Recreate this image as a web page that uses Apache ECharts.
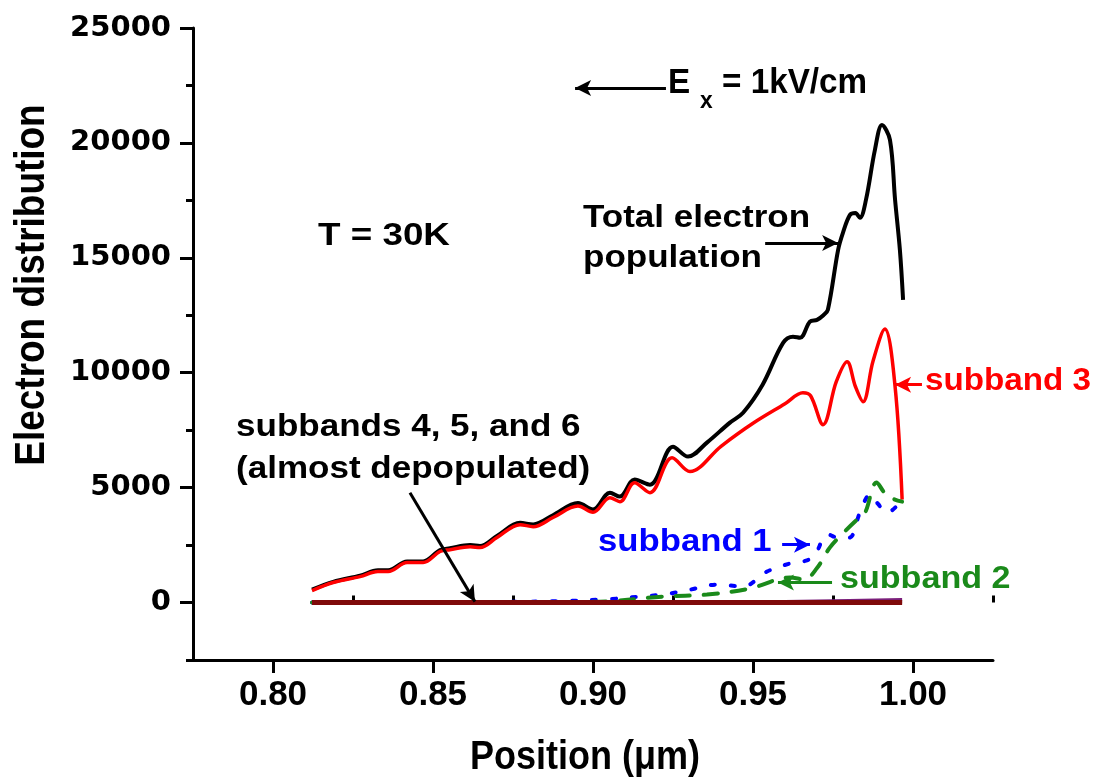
<!DOCTYPE html>
<html>
<head>
<meta charset="utf-8">
<title>Electron distribution, T = 30K</title>
<script src="https://cdn.jsdelivr.net/npm/echarts@6/dist/echarts.min.js"></script>
<style>
  html, body { margin: 0; padding: 0; background: #fff; }
  #chart { width: 1104px; height: 779px; }
</style>
</head>
<body>
<div id="chart"></div>
<script>
// Position along the device (µm) and electron distribution for each curve
const totalX = [0.8122, 0.8188, 0.8272, 0.8328, 0.8360, 0.8419, 0.8469, 0.8522, 0.8553, 0.8616, 0.8647, 0.8700, 0.8772, 0.8813, 0.8875, 0.8953, 0.9000, 0.9053, 0.9084, 0.9130, 0.9178, 0.9250, 0.9297, 0.9356, 0.9428, 0.9469, 0.9530, 0.9594, 0.9625, 0.9647, 0.9678, 0.9700, 0.9720, 0.9734, 0.9766, 0.9781, 0.9803, 0.9820, 0.9834, 0.9853, 0.9881, 0.9903, 0.9928, 0.9944, 0.9959, 0.9969];
const totalY = [560, 900, 1170, 1400, 1400, 1790, 1790, 2280, 2360, 2500, 2460, 2900, 3470, 3400, 3800, 4330, 4050, 4780, 4610, 5350, 5130, 6780, 6350, 6960, 7830, 8260, 9480, 11300, 11570, 11520, 12220, 12300, 12500, 12740, 15350, 16090, 16870, 16950, 16740, 17520, 19700, 20780, 20130, 17520, 15350, 13170];

const sub3X = [0.8122, 0.8188, 0.8272, 0.8328, 0.8360, 0.8419, 0.8469, 0.8522, 0.8553, 0.8616, 0.8647, 0.8700, 0.8772, 0.8813, 0.8875, 0.8953, 0.9000, 0.9053, 0.9084, 0.9130, 0.9178, 0.9247, 0.9303, 0.9400, 0.9500, 0.9600, 0.9656, 0.9680, 0.9719, 0.9760, 0.9794, 0.9820, 0.9844, 0.9875, 0.9912, 0.9944, 0.9966];
const sub3Y = [520, 870, 1130, 1350, 1350, 1740, 1740, 2220, 2300, 2430, 2390, 2830, 3390, 3300, 3700, 4200, 3930, 4560, 4390, 5210, 4780, 6300, 5700, 6800, 7800, 8650, 9130, 9000, 7740, 9600, 10480, 9400, 8740, 10500, 11900, 9400, 4480];

const sub1X = [0.8122, 0.8600, 0.8900, 0.9050, 0.9147, 0.9220, 0.9303, 0.9387, 0.9469, 0.9544, 0.9616, 0.9660, 0.9690, 0.9734, 0.9770, 0.9803, 0.9834, 0.9866, 0.9890, 0.9919, 0.9959];
const sub1Y = [0, 20, 60, 150, 260, 350, 560, 780, 700, 1350, 1700, 1800, 2000, 2960, 2800, 2830, 3910, 4700, 4300, 3910, 4350];

const sub2X = [0.8122, 0.9000, 0.9219, 0.9356, 0.9490, 0.9616, 0.9660, 0.9700, 0.9740, 0.9780, 0.9825, 0.9850, 0.9875, 0.9885, 0.9910, 0.9940, 0.9966];
const sub2Y = [0, 30, 260, 350, 610, 1090, 1000, 1500, 2390, 3000, 3610, 3900, 5040, 5220, 4800, 4500, 4390];

const sub4X = [0.8122, 0.8500, 0.9000, 0.9500, 0.9966];
const sub4Y = [0, 0, 0, 0, 0];

const sub5X = [0.8122, 0.9000, 0.9300, 0.9600, 0.9800, 0.9966];
const sub5Y = [0, 5, 20, 50, 90, 130];

const sub6X = [0.8122, 0.9000, 0.9500, 0.9966];
const sub6Y = [0, 0, 5, 20];

// Axis ticks and labels
const xMajor = [0.80, 0.85, 0.90, 0.95, 1.00];
const xMinor = [0.775, 0.825, 0.875, 0.925, 0.975, 1.025];
const yMajor = [0, 5000, 10000, 15000, 20000, 25000];
const yMinor = [-2500, 2500, 7500, 12500, 17500, 22500];

const pairs = (xs, ys) => xs.map((x, i) => [x, ys[i]]);

const TXT = 'Liberation Sans, Arial, sans-serif';

function arrowLine(items, color) {
  return {
    silent: true,
    symbol: ['none', 'arrow'],
    symbolSize: [12, 16],
    label: { show: false },
    lineStyle: { color: color, width: 3, type: 'solid' },
    emphasis: { disabled: true },
    data: items
  };
}

// Text block anchored at its top-left corner, optionally stretched horizontally
function note(x, y, text, size, color, sx, extra) {
  return {
    type: 'text', x: x, y: y, scaleX: sx || 1, silent: true,
    style: Object.assign({
      text: text, font: 'bold ' + size + 'px ' + TXT, fill: color,
      textAlign: 'left', textVerticalAlign: 'top'
    }, extra || {})
  };
}

const chart = echarts.init(document.getElementById('chart'), null, { renderer: 'canvas' });

const baseAxis = {
  type: 'value',
  splitLine: { show: false },
  axisLine: { show: true, onZero: false, lineStyle: { color: '#000', width: 3 } }
};

chart.setOption({
  animation: false,
  backgroundColor: '#fff',
  grid: { left: 193, right: 111, top: 28, bottom: 119, containLabel: false },
  xAxis: [
    Object.assign({}, baseAxis, {
      min: 0.775, max: 1.025,
      axisTick: { show: true, inside: false, length: 13, customValues: xMajor, lineStyle: { color: '#000', width: 3 } },
      axisLabel: { show: true, customValues: xMajor, margin: 18, formatter: v => v.toFixed(2), fontFamily: TXT, fontWeight: 'bold', fontSize: 35, color: '#000' }
    }),
    Object.assign({}, baseAxis, {
      min: 0.775, max: 1.025,
      axisLine: { show: false },
      axisTick: { show: true, inside: false, length: 7, customValues: xMinor, lineStyle: { color: '#000', width: 3 } },
      axisLabel: { show: false }
    })
  ],
  yAxis: [
    Object.assign({}, baseAxis, {
      min: -2500, max: 25000,
      axisTick: { show: true, inside: false, length: 13, customValues: yMajor, lineStyle: { color: '#000', width: 3 } },
      axisLabel: { show: true, customValues: yMajor, margin: 22, formatter: v => String(Math.round(v)), fontFamily: 'DejaVu Sans, sans-serif', fontWeight: 'bold', fontSize: 29, color: '#000' }
    }),
    Object.assign({}, baseAxis, {
      min: -2500, max: 25000,
      position: 'left',
      axisLine: { show: false },
      axisTick: { show: true, inside: false, length: 7, customValues: yMinor, lineStyle: { color: '#000', width: 3 } },
      axisLabel: { show: false }
    })
  ],
  series: [
    {
      name: 'Total electron population',
      type: 'line', xAxisIndex: 0, yAxisIndex: 0,
      data: pairs(totalX, totalY),
      smooth: 0.35, showSymbol: false, symbol: 'none',
      lineStyle: { color: '#000', width: 4 },
      markLine: arrowLine([
        [{ coord: [0.9538, 15650] }, { coord: [0.9766, 15650] }],
        [{ coord: [0.9228, 22390] }, { coord: [0.8944, 22390] }]
      ], '#000')
    },
    {
      name: 'subband 3',
      type: 'line',
      data: pairs(sub3X, sub3Y),
      smooth: 0.35, showSymbol: false, symbol: 'none',
      lineStyle: { color: '#ff0000', width: 3.5 },
      markLine: arrowLine([
        [{ coord: [1.0028, 9480] }, { coord: [0.9944, 9480] }]
      ], '#ff0000')
    },
    {
      name: 'subband 1',
      type: 'line',
      data: pairs(sub1X, sub1Y),
      smooth: 0.35, showSymbol: false, symbol: 'none',
      lineStyle: { color: '#0000ff', width: 4, type: [4, 16], cap: 'round' },
      markLine: arrowLine([
        [{ coord: [0.9591, 2520] }, { coord: [0.9678, 2520] }]
      ], '#0000ff')
    },
    {
      name: 'subband 2',
      type: 'line',
      data: pairs(sub2X, sub2Y),
      smooth: 0.35, showSymbol: false, symbol: 'none',
      lineStyle: { color: '#1a8a1a', width: 4, type: [14, 14], cap: 'round' },
      markLine: arrowLine([
        [{ coord: [0.9747, 870] }, { coord: [0.9578, 870] }]
      ], '#1a8a1a')
    },
    {
      name: 'subband 6',
      type: 'line',
      data: pairs(sub6X, sub6Y),
      smooth: true, showSymbol: false, symbol: 'none',
      lineStyle: { color: '#5a1010', width: 3 }
    },
    {
      name: 'subband 5',
      type: 'line',
      data: pairs(sub5X, sub5Y),
      smooth: true, showSymbol: false, symbol: 'none',
      lineStyle: { color: '#7a1f7a', width: 3 }
    },
    {
      name: 'subband 4',
      type: 'line',
      data: pairs(sub4X, sub4Y),
      showSymbol: false, symbol: 'none',
      lineStyle: { color: '#7f0a0a', width: 5 },
      markLine: arrowLine([
        [{ coord: [0.8428, 4780] }, { coord: [0.8631, 40] }]
      ], '#000')
    }
  ],
  graphic: [
    // axis titles
    {
      type: 'text', x: 32, y: 285, rotation: Math.PI / 2, scaleX: 0.88, silent: true,
      style: { text: 'Electron distribution', font: 'bold 42px ' + TXT, fill: '#000', textAlign: 'center', textVerticalAlign: 'middle' }
    },
    {
      type: 'text', x: 585, y: 758, scaleX: 0.9, silent: true,
      style: { text: 'Position (\u03bcm)', font: 'bold 40px ' + TXT, fill: '#000', textAlign: 'center', textVerticalAlign: 'middle' }
    },
    // field direction
    note(668, 66, 'E', 35, '#000', 0.95),
    note(700, 89, 'x', 24, '#000', 0.95),
    note(722, 66, '= 1kV/cm', 35, '#000', 0.95),
    // annotations
    note(318, 220, 'T = 30K', 32, '#000', 1.15),
    note(583, 198, 'Total electron\npopulation', 31, '#000', 1.13, { lineHeight: 40 }),
    note(925, 366, 'subband 3', 31, '#ff0000', 1.07),
    note(236, 406, 'subbands 4, 5, and 6\n(almost depopulated)', 31, '#000', 1.13, { lineHeight: 42 }),
    note(598, 527, 'subband 1', 31, '#0000ff', 1.12),
    note(840, 564, 'subband 2', 31, '#1a8a1a', 1.1)
  ]
});
</script>
</body>
</html>
